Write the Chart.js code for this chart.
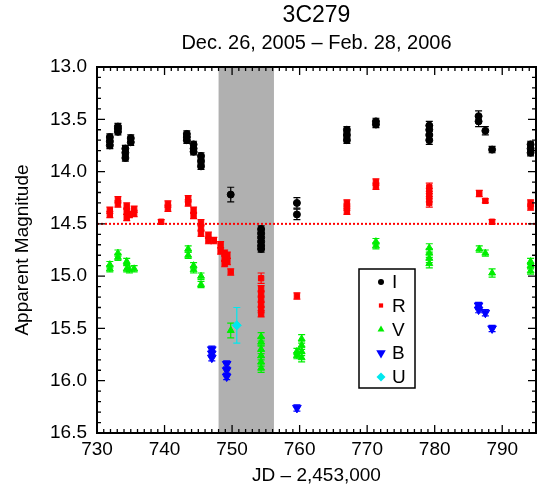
<!DOCTYPE html>
<html><head><meta charset="utf-8">
<script src="https://cdn.jsdelivr.net/npm/chart.js@4/dist/chart.umd.min.js"></script>
<style>html,body{margin:0;padding:0;background:#fff}</style>
</head><body>
<canvas id="c" width="542" height="488"></canvas>
<script>
// ---- data ----
const titleText = '3C279';
const subtitleText = 'Dec. 26, 2005 \u2013 Feb. 28, 2006';
const xTicks = [730, 740, 750, 760, 770, 780, 790];
const yTicks = [13.0, 13.5, 14.0, 14.5, 15.0, 15.5, 16.0, 16.5];
const shadeRange = [748, 756.2];
const refLine = 14.5;

const I_jd  = [731.9,731.9,731.9, 733.1,733.1,733.1, 734.2,734.2,734.2, 735.0,735.0, 743.3,743.3,743.3, 744.3,744.3,744.3, 745.4,745.4,745.4, 749.8, 754.3,754.3,754.3,754.3,754.3,754.3, 759.6,759.6, 767.0,767.0,767.0, 771.3,771.3, 779.2,779.2,779.2,779.2, 786.5,786.5, 787.5, 788.5, 794.2,794.2,794.2];
const I_mag = [13.67,13.71,13.75, 13.57,13.59,13.62, 13.78,13.82,13.87, 13.68,13.72, 13.64,13.67,13.70, 13.74,13.78,13.81, 13.85,13.90,13.95, 14.22, 14.55,14.59,14.63,14.67,14.71,14.74, 14.30,14.41, 13.60,13.65,13.70, 13.52,13.55, 13.56,13.60,13.65,13.70, 13.47,13.52, 13.61, 13.79, 13.74,13.78,13.82];
const I_err = [0.03,0.03,0.03, 0.03,0.03,0.03, 0.03,0.03,0.03, 0.03,0.03, 0.03,0.03,0.03, 0.03,0.03,0.03, 0.03,0.03,0.03, 0.07, 0.03,0.03,0.03,0.03,0.03,0.03, 0.05,0.05, 0.03,0.03,0.03, 0.03,0.03, 0.04,0.04,0.04,0.04, 0.05,0.05, 0.04, 0.03, 0.03,0.03,0.03];

const R_jd  = [731.9,731.9, 733.1,733.1, 734.4,734.4,734.4, 734.8, 735.5,735.5, 739.5, 740.5,740.5, 743.5,743.5, 744.3,744.3, 745.4,745.4,745.4, 746.5,746.5, 747.3, 748.3,748.3, 748.9,748.9,748.9, 749.3,749.3, 749.8, 754.3,754.3,754.3,754.3,754.3,754.3,754.3, 759.6, 767.0,767.0,767.0, 771.3,771.3, 779.2,779.2,779.2,779.2, 786.6, 787.5, 788.5, 794.2,794.2];
const R_mag = [14.37,14.41, 14.27,14.31, 14.33,14.38,14.44, 14.41, 14.36,14.40, 14.48, 14.31,14.35, 14.26,14.30, 14.37,14.42, 14.49,14.54,14.59, 14.61,14.66, 14.66, 14.70,14.76, 14.78,14.83,14.88, 14.80,14.86, 14.96, 15.02,15.12,15.17,15.22,15.27,15.32,15.36, 15.19, 14.30,14.34,14.38, 14.10,14.14, 14.15,14.20,14.25,14.30, 14.21, 14.28, 14.48, 14.30,14.34];
const R_err = [0.03,0.03, 0.03,0.03, 0.03,0.03,0.03, 0.03, 0.03,0.03, 0.02, 0.03,0.03, 0.03,0.03, 0.03,0.03, 0.03,0.03,0.03, 0.03,0.03, 0.03, 0.03,0.03, 0.03,0.03,0.03, 0.03,0.03, 0.03, 0.05,0.03,0.03,0.03,0.03,0.03,0.03, 0.03, 0.03,0.03,0.03, 0.03,0.03, 0.04,0.04,0.04,0.04, 0.03, 0.02, 0.02, 0.03,0.03];

const V_jd  = [731.9,731.9, 733.1,733.1, 734.4,734.4, 734.8, 735.5, 743.5,743.5, 744.3,744.3, 745.4,745.4, 749.8, 754.3,754.3,754.3,754.3,754.3,754.3, 759.6,759.6, 760.3,760.3,760.3,760.3, 771.3,771.3, 779.2,779.2,779.2,779.2, 786.6, 787.5, 788.5, 794.2,794.2,794.2];
const V_mag = [14.89,14.93, 14.78,14.82, 14.86,14.93, 14.94, 14.93, 14.74,14.80, 14.90,14.94, 15.00,15.08, 15.52, 15.58,15.63,15.70,15.76,15.82,15.88, 15.72,15.76, 15.60,15.66,15.72,15.78, 14.67,14.71, 14.73,14.78,14.83,14.88, 14.74, 14.78, 14.97, 14.86,14.90,14.95];
const V_err = [0.03,0.03, 0.03,0.03, 0.03,0.03, 0.03, 0.03, 0.03,0.03, 0.03,0.03, 0.03,0.03, 0.07, 0.04,0.04,0.04,0.04,0.04,0.04, 0.03,0.03, 0.04,0.04,0.04,0.04, 0.03,0.03, 0.04,0.04,0.04,0.04, 0.03, 0.03, 0.04, 0.03,0.03,0.03];

const B_jd  = [747.0,747.0,747.0, 749.2,749.2,749.2, 759.6, 786.5,786.5, 787.5, 788.5];
const B_mag = [15.70,15.74,15.78, 15.84,15.90,15.96, 16.26, 15.28,15.32, 15.35, 15.50];
const B_err = [0.03,0.03,0.03, 0.03,0.03,0.03, 0.03, 0.03,0.03, 0.03, 0.03];

const U_jd  = [750.7];
const U_mag = [15.47];
const U_err = [0.17];

const bandNames = ['I', 'R', 'V', 'B', 'U'];

// ---- build ----
const FONT = "'Liberation Sans', Arial, Helvetica, sans-serif";
function pts(jd, mag, err) { return jd.map((x, i) => ({ x: x, y: mag[i], e: err[i] })); }

const styles = {
  I: { color: '#000000', style: 'circle', radius: 3.5, rot: 0 },
  R: { color: '#ff0000', style: 'rect', radius: 3.8, rot: 0 },
  V: { color: '#00ee00', style: 'triangle', radius: 4, rot: 0 },
  B: { color: '#0000ff', style: 'triangle', radius: 5, rot: 180 },
  U: { color: '#00e8ee', style: 'rectRot', radius: 4.5, rot: 0 }
};
const series = { I: pts(I_jd, I_mag, I_err), R: pts(R_jd, R_mag, R_err), V: pts(V_jd, V_mag, V_err), B: pts(B_jd, B_mag, B_err), U: pts(U_jd, U_mag, U_err) };

const datasets = bandNames.map(n => ({
  label: n,
  data: series[n],
  pointStyle: styles[n].style,
  pointRadius: styles[n].radius,
  rotation: styles[n].rot,
  backgroundColor: styles[n].color,
  borderColor: styles[n].color,
  borderWidth: 1,
  showLine: false
}));

function marker(ctx, st, x, y, r) {
  ctx.save();
  ctx.fillStyle = st.color;
  ctx.translate(x, y);
  ctx.rotate(st.rot * Math.PI / 180);
  ctx.beginPath();
  if (st.style === 'circle') { ctx.arc(0, 0, r, 0, Math.PI * 2); }
  else if (st.style === 'rect') { const s = r * Math.SQRT1_2; ctx.rect(-s, -s, 2 * s, 2 * s); }
  else if (st.style === 'rectRot') { ctx.moveTo(0, -r); ctx.lineTo(r, 0); ctx.lineTo(0, r); ctx.lineTo(-r, 0); ctx.closePath(); }
  else if (st.style === 'triangle') { ctx.moveTo(0, -r); ctx.lineTo(r * 0.866, r * 0.5); ctx.lineTo(-r * 0.866, r * 0.5); ctx.closePath(); }
  ctx.fill();
  ctx.restore();
}

const deco = {
  id: 'deco',
  beforeDatasetsDraw(chart) {
    const { ctx, chartArea: a, scales: { x, y } } = chart;
    ctx.save();
    const x0 = x.getPixelForValue(shadeRange[0]), x1 = x.getPixelForValue(shadeRange[1]);
    ctx.fillStyle = '#b0b0b0';
    ctx.fillRect(x0, a.top, x1 - x0, a.bottom - a.top);
    const yr = y.getPixelForValue(refLine);
    ctx.strokeStyle = '#ff0000'; ctx.lineWidth = 2; ctx.setLineDash([2, 2]);
    ctx.beginPath(); ctx.moveTo(a.left, yr); ctx.lineTo(a.right, yr); ctx.stroke();
    ctx.setLineDash([]);
    chart.data.datasets.forEach(ds => {
      ctx.strokeStyle = ds.borderColor; ctx.lineWidth = 1.2;
      ds.data.forEach(p => {
        const px = x.getPixelForValue(p.x);
        const yt = y.getPixelForValue(p.y - p.e), yb = y.getPixelForValue(p.y + p.e);
        ctx.beginPath();
        ctx.moveTo(px, yt); ctx.lineTo(px, yb);
        ctx.moveTo(px - 3.5, yt); ctx.lineTo(px + 3.5, yt);
        ctx.moveTo(px - 3.5, yb); ctx.lineTo(px + 3.5, yb);
        ctx.stroke();
      });
    });
    ctx.restore();
  },
  afterDraw(chart) {
    const { ctx, chartArea: a, scales: { x, y } } = chart;
    ctx.save();
    // titles centred over the plot area
    const cx = (a.left + a.right) / 2;
    ctx.fillStyle = '#000'; ctx.textAlign = 'center'; ctx.textBaseline = 'middle';
    ctx.font = '23px ' + FONT; ctx.fillText(titleText, cx, 16);
    ctx.font = '20px ' + FONT; ctx.fillText(subtitleText, cx, 43);
    // frame + ticks
    ctx.strokeStyle = '#000'; ctx.lineWidth = 2;
    ctx.strokeRect(a.left, a.top, a.right - a.left, a.bottom - a.top);
    ctx.lineWidth = 1.3;
    ctx.beginPath();
    for (let v = 730; v <= 795; v++) {
      const px = x.getPixelForValue(v);
      const L = (v % 10 === 0) ? 8 : 4;
      ctx.moveTo(px, a.bottom); ctx.lineTo(px, a.bottom - L);
      ctx.moveTo(px, a.top); ctx.lineTo(px, a.top + L);
    }
    for (let k = 130; k <= 165; k++) {
      const py = y.getPixelForValue(k / 10);
      const L = (k % 5 === 0) ? 8 : 4;
      ctx.moveTo(a.left, py); ctx.lineTo(a.left + L, py);
      ctx.moveTo(a.right, py); ctx.lineTo(a.right - L, py);
    }
    ctx.stroke();
    // legend
    const bx = 359, by = 269, bw = 56, bh = 119;
    ctx.fillStyle = '#fff';
    ctx.fillRect(bx, by, bw, bh);
    ctx.strokeStyle = '#000'; ctx.lineWidth = 1.5;
    ctx.strokeRect(bx, by, bw, bh);
    const rows = [282, 305.5, 329.5, 353, 377];
    const lr = { I: 3, R: 3, V: 4, B: 5.5, U: 4.5 };
    ctx.font = '19px ' + FONT; ctx.textBaseline = 'middle'; ctx.textAlign = 'left';
    bandNames.forEach((n, i) => {
      marker(ctx, styles[n], 381, rows[i], lr[n]);
      ctx.fillStyle = '#000';
      ctx.fillText(n, 392, rows[i] + 1);
    });
    ctx.restore();
  }
};

new Chart(document.getElementById('c').getContext('2d'), {
  type: 'scatter',
  data: { datasets: datasets },
  options: {
    responsive: false,
    animation: false,
    devicePixelRatio: 1,
    layout: { padding: { left: 0, right: 1.5, top: 67, bottom: 0 } },
    plugins: {
      legend: { display: false },
      tooltip: { enabled: false },
      title: { display: false },
      subtitle: { display: false }
    },
    scales: {
      x: {
        type: 'linear', min: 730, max: 795,
        afterFit: s => { s.height = 55; },
        afterBuildTicks: s => { s.ticks = xTicks.map(v => ({ value: v })); },
        grid: { display: false, drawTicks: false },
        border: { display: false },
        ticks: { color: '#000', font: { family: FONT, size: 19 }, padding: 5, maxRotation: 0, autoSkip: false },
        title: { display: true, text: 'JD \u2013 2,453,000', color: '#000', font: { family: FONT, size: 19 }, padding: { top: 0, bottom: 1 } }
      },
      y: {
        type: 'linear', reverse: true, min: 13, max: 16.5,
        afterFit: s => { s.width = 97; },
        afterBuildTicks: s => { s.ticks = yTicks.map(v => ({ value: v })); },
        grid: { display: false, drawTicks: false },
        border: { display: false },
        ticks: { color: '#000', font: { family: FONT, size: 19 }, padding: 10, autoSkip: false, callback: v => Number(v).toFixed(1) },
        title: { display: true, text: 'Apparent Magnitude', color: '#000', font: { family: FONT, size: 19 }, padding: { top: 11, bottom: 0 } }
      }
    }
  },
  plugins: [deco]
});
</script>
</body></html>
